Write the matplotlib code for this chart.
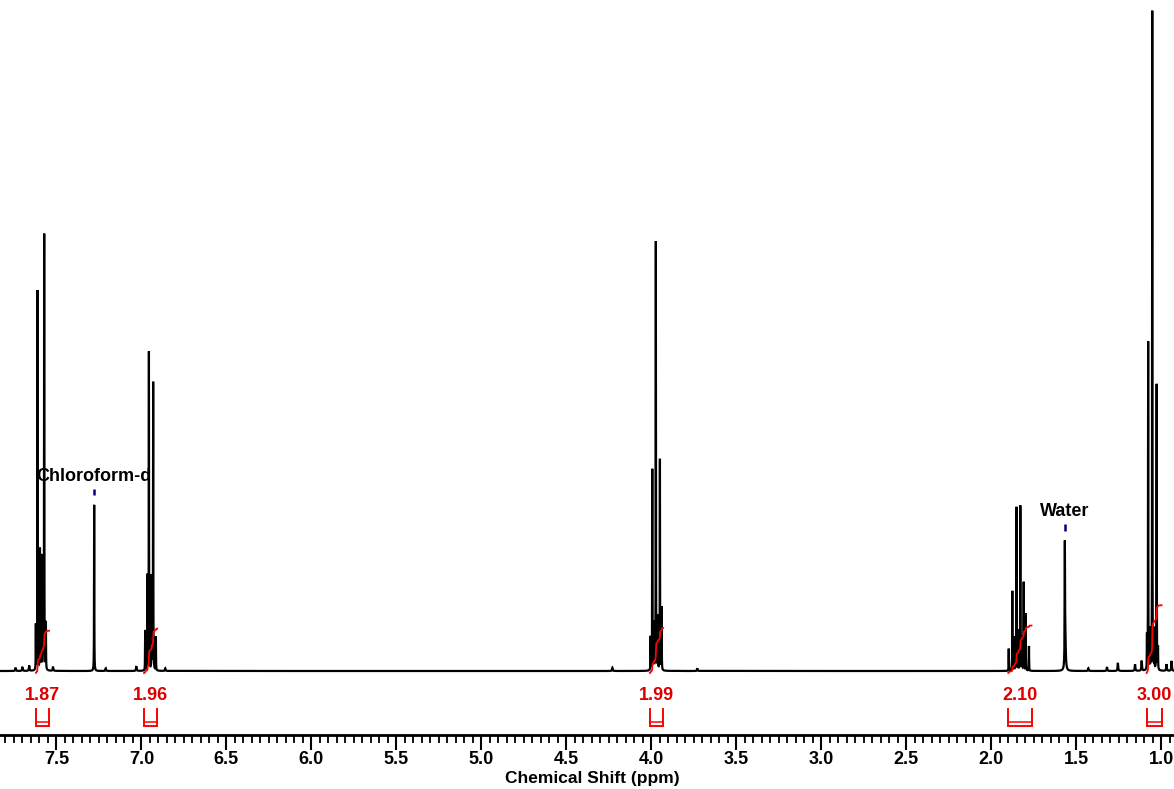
import numpy as np
import matplotlib
matplotlib.use("Agg")
import matplotlib.pyplot as plt
from matplotlib.ticker import MultipleLocator, FormatStrFormatter

plt.rcParams['font.family'] = ['Liberation Sans', 'DejaVu Sans']

# Resolved lines of the 1H spectrum: position (ppm), peak height (% of full scale)
aromatic_a_ppm = [7.621, 7.611, 7.597, 7.588, 7.579, 7.572, 7.562]
aromatic_a_h   = [6.7, 56.7, 18.0, 17.0, 12.0, 65.0, 7.0]

solvent_ppm = [7.278]
solvent_h   = [24.8]

aromatic_b_ppm = [6.978, 6.964, 6.956, 6.940, 6.931, 6.915]
aromatic_b_h   = [6.0, 14.0, 47.5, 14.0, 43.0, 5.0]

och2_ppm = [4.005, 3.995, 3.985, 3.974, 3.963, 3.950, 3.940]
och2_h   = [5.0, 30.0, 7.0, 64.0, 8.0, 31.5, 9.4]

ch2_ppm = [1.898, 1.877, 1.865, 1.853, 1.842, 1.830, 1.820, 1.810, 1.798, 1.779]
ch2_h   = [3.3, 11.9, 5.0, 24.4, 6.0, 24.6, 5.0, 13.2, 8.5, 3.7]

water_ppm = [1.568, 1.565]
water_h   = [17.5, 4.0]
water_w   = [0.0012, 0.003]

ch3_ppm = [1.085, 1.078, 1.066, 1.054, 1.042, 1.028, 1.020]
ch3_h   = [5.0, 49.0, 6.0, 98.4, 6.0, 42.7, 3.3]

minor_ppm = [7.74, 7.70, 7.66, 7.52, 7.21, 7.03, 6.86, 4.23, 3.73, 1.43,
             1.32, 1.256, 1.155, 1.116, 0.97, 0.94]
minor_h   = [0.5, 0.6, 0.8, 0.6, 0.4, 0.7, 0.4, 0.5, 0.4, 0.4,
             0.6, 1.2, 1.0, 1.5, 1.0, 1.5]

# Integration regions (ppm, from -> to) and their relative areas
integral_from   = [7.621, 6.985, 4.009, 1.901, 1.087]
integral_to     = [7.543, 6.907, 3.931, 1.764, 0.999]
integral_values = [1.87, 1.96, 1.99, 2.10, 3.00]

# Solvent / impurity annotations
annot_text = ['Chloroform-d', 'Water']
annot_ppm  = [7.278, 1.568]

# Axis
ppm_left, ppm_right = 7.832, 0.926
tick_major = 0.5
tick_minor = 0.05


def lorentz(x, x0, h, w):
    return h * w * w / ((x - x0) ** 2 + w * w)


ppm = np.arange(ppm_right, ppm_left, 0.0002)
spec = np.zeros_like(ppm)
sharp_w = 0.0008
for pos, hts in [(aromatic_a_ppm, aromatic_a_h), (solvent_ppm, solvent_h),
                 (aromatic_b_ppm, aromatic_b_h), (och2_ppm, och2_h),
                 (ch2_ppm, ch2_h), (ch3_ppm, ch3_h)]:
    for p, h in zip(pos, hts):
        spec += lorentz(ppm, p, h, sharp_w)
for p, h, w in zip(water_ppm, water_h, water_w):
    spec += lorentz(ppm, p, h, w)
for p, h in zip(minor_ppm, minor_h):
    spec += lorentz(ppm, p, h, 0.002)

# Figure geometry (pixels): baseline row, axis row, pixels per unit
W, H = 1174, 789
base_px, axis_px, unit_px = 671, 735, 6.7


def ypx(p):
    return (base_px - p) / unit_px


fig = plt.figure(figsize=(W / 100, H / 100), dpi=100)
ax = fig.add_axes([0, 1 - axis_px / H, 1, axis_px / H])
ax.set_xlim(ppm_left, ppm_right)
ax.set_ylim(ypx(axis_px), ypx(0))

ax.plot(ppm, spec, color='black', lw=1.6, solid_joinstyle='miter')

# Integral curves and brackets
red = '#ff0000'
scale = 22.6 / unit_px
for a, b, v in zip(integral_from, integral_to, integral_values):
    m = (ppm <= a) & (ppm >= b)
    xs = ppm[m][::-1]
    ys = spec[m][::-1]
    cum = np.cumsum(ys)
    cum = cum / cum[-1] * v * scale + ypx(673)
    ax.plot(xs, cum, color=red, lw=1.3)
    # bracket under the region
    y_top, y_bot, y_in = ypx(709), ypx(726), ypx(722)
    ax.plot([a, a, b, b], [y_top, y_bot, y_bot, y_top], color=red, lw=1.4,
            solid_joinstyle='miter')
    ax.plot([a, b], [y_in, y_in], color=red, lw=1.1)
    ax.text((a + b) / 2, ypx(695), f'{v:.2f}', color='#dd0000', fontsize=13,
            fontweight='bold', ha='center', va='center')

# Annotations
for t, p in zip(annot_text, annot_ppm):
    idx = np.argmin(np.abs(ppm - p))
    top = spec[idx]
    ax.plot([p, p], [top + 1.4, top + 2.4], color='#000080', lw=1.8,
            solid_capstyle='butt')
    ax.text(p, top + 4.3, t, fontsize=13, fontweight='bold', ha='center',
            va='center', color='black')

for s in ['top', 'left', 'right']:
    ax.spines[s].set_visible(False)
ax.spines['bottom'].set_linewidth(2)
ax.set_yticks([])
ax.xaxis.set_major_locator(MultipleLocator(tick_major))
ax.xaxis.set_minor_locator(MultipleLocator(tick_minor))
ax.xaxis.set_major_formatter(FormatStrFormatter('%.1f'))
ax.tick_params(axis='x', which='major', direction='out', length=11, width=1.5,
               pad=0.5, labelsize=13)
ax.tick_params(axis='x', which='minor', direction='out', length=6, width=1.3)
for lab in ax.get_xticklabels():
    lab.set_fontweight('bold')
ax.patch.set_alpha(0)

fig.text(592 / W, 1 - 778 / H, 'Chemical Shift (ppm)', fontsize=12.5,
         fontweight='bold', ha='center', va='center')

fig.savefig('out.png', dpi=100, facecolor='white')
